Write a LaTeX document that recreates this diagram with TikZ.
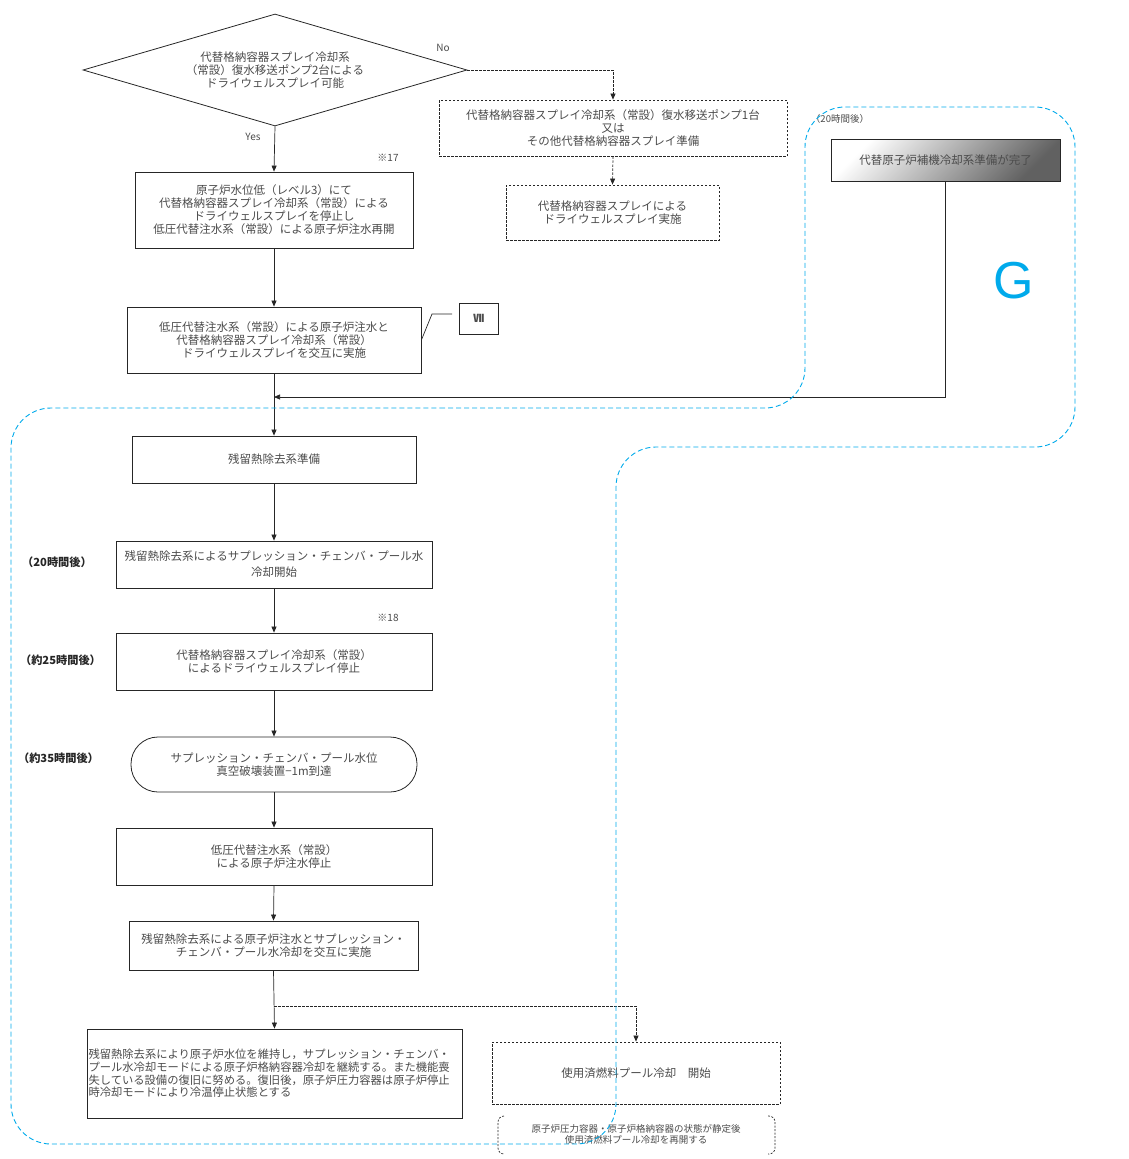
\documentclass[tikz,border=0pt]{standalone}
\usepackage{fontspec}
\setmainfont{Noto Sans CJK JP}
\newfontfamily\latinsans{Liberation Sans}
\usetikzlibrary{shapes.geometric,arrows.meta}
\definecolor{gblue}{RGB}{0,170,235}
\definecolor{txt}{RGB}{75,75,75}
\begin{document}
\begin{tikzpicture}[x=1pt,y=-1pt,
  every node/.style={text=txt, font=\fontsize{11.5}{13}\selectfont, inner sep=1pt},
  box/.style={draw=black!85, line width=0.8pt, rectangle, align=center, inner sep=2pt},
  dbox/.style={box, dash pattern=on 2.5pt off 1.5pt},
  arr/.style={draw=black!85, line width=0.7pt, -{Triangle[length=6pt,width=5pt]}},
  darr/.style={arr, dash pattern=on 2.5pt off 1.5pt},
  lbl/.style={font=\fontsize{11.2}{13}\selectfont\bfseries, text=black!85},
  small/.style={font=\fontsize{10}{11}\selectfont},
  region/.style={draw=gblue, line width=0.9pt, dash pattern=on 5pt off 3pt},
]
\useasboundingbox (0,0) rectangle (1129,1159);

% decision
\node[draw=black!85, line width=0.8pt, diamond, aspect=3.43, minimum width=384pt, minimum height=112pt, inner sep=0pt, align=center] (dia) at (275,70)
  {代替格納容器スプレイ冷却系\\（常設）復水移送ポンプ2台による\\ドライウェルスプレイ可能};
\node[small] (no) at (443,48) {No};
\node[small] (yes) at (253,137) {Yes};

% No branch
\node[dbox, minimum width=348pt, minimum height=56pt] (b1) at (613,128)
  {代替格納容器スプレイ冷却系（常設）復水移送ポンプ1台\\又は\\その他代替格納容器スプレイ準備};
\node[dbox, minimum width=213pt, minimum height=55pt] (b2) at (612.5,212.5)
  {代替格納容器スプレイによる\\ドライウェルスプレイ実施};

% main column
\node[small] (m17) at (388,158) {※17};
\node[box, minimum width=278pt, minimum height=76pt] (nA) at (274,210)
  {原子炉水位低（レベル3）にて\\代替格納容器スプレイ冷却系（常設）による\\ドライウェルスプレイを停止し\\低圧代替注水系（常設）による原子炉注水再開};
\node[box, minimum width=294pt, minimum height=66pt] (nB) at (274,340)
  {低圧代替注水系（常設）による原子炉注水と\\代替格納容器スプレイ冷却系（常設）\\ドライウェルスプレイを交互に実施};
\node[box, minimum width=39pt, minimum height=31pt, font=\fontsize{11}{13}\selectfont\bfseries] (vii) at (478.5,318.5) {Ⅶ};
\node[box, minimum width=284pt, minimum height=47pt] (nC) at (274,459.5) {残留熱除去系準備};
\node[box, minimum width=316pt, minimum height=47pt, font=\fontsize{11.5}{16}\selectfont] (nD) at (274,564.5)
  {残留熱除去系によるサプレッション・チェンバ・プール水\\冷却開始};
\node[small] (m18) at (388,618) {※18};
\node[box, minimum width=316pt, minimum height=57pt] (nE) at (274,661.5)
  {代替格納容器スプレイ冷却系（常設）\\によるドライウェルスプレイ停止};
\node[box, rounded corners=27pt, minimum width=286pt, minimum height=55pt] (nF) at (274,764.5)
  {サプレッション・チェンバ・プール水位\\真空破壊装置−1m到達};
\node[box, minimum width=316pt, minimum height=57pt] (nG) at (274,856.5)
  {低圧代替注水系（常設）\\による原子炉注水停止};
\node[box, minimum width=289pt, minimum height=49pt] (nH) at (273.5,945.5)
  {残留熱除去系による原子炉注水とサプレッション・\\チェンバ・プール水冷却を交互に実施};
\node[box, minimum width=375pt, minimum height=89pt, text width=372pt, inner sep=1.5pt, align=left, font=\fontsize{11.3}{12.7}\selectfont] (nI) at (274.5,1073.5)
  {残留熱除去系により原子炉水位を維持し，サプレッション・チェンバ・\\プール水冷却モードによる原子炉格納容器冷却を継続する。また機能喪\\失している設備の復旧に努める。復旧後，原子炉圧力容器は原子炉停止\\時冷却モードにより冷温停止状態とする};
\node[dbox, minimum width=288pt, minimum height=62pt] (nJ) at (636,1073) {使用済燃料プール冷却　開始};
\node[font=\fontsize{9.5}{11}\selectfont, align=center] (note) at (636,1134)
  {原子炉圧力容器・原子炉格納容器の状態が静定後\\使用済燃料プール冷却を再開する};
\draw[black!85, line width=0.7pt, dash pattern=on 2pt off 1.5pt, rounded corners=6pt] (504,1116) -- (498,1116) -- (498,1154) -- (504,1154);
\draw[black!85, line width=0.7pt, dash pattern=on 2pt off 1.5pt, rounded corners=6pt] (768,1116) -- (775,1116) -- (775,1154) -- (768,1154);

% time labels
\node[lbl] (t20) at (57,562) {（20時間後）};
\node[lbl] (t25) at (60.5,660) {（約25時間後）};
\node[lbl] (t35) at (58.5,758) {（約35時間後）};
\node[font=\fontsize{9.5}{11}\selectfont] (t20g) at (840,119) {（20時間後）};

% G region
\node[draw=black!85, line width=0.8pt, minimum width=229pt, minimum height=42pt, top color=white, bottom color=black!62, shading angle=45] (gb) at (945.5,160) {代替原子炉補機冷却系準備が完了};
\node[text=gblue, font=\latinsans\fontsize{52}{52}\selectfont] (gl) at (1014,281) {G};

% connectors
\coordinate (m) at (274,397);
\coordinate (br) at (274,1006);
\coordinate (v1) at (432,314);
\coordinate (v2) at (452,314);
\draw[darr] (dia.east) -| (b1.north);
\draw[darr] (b1.south) -- (b2.north);
\draw[arr] (dia.south) -- (nA.north);
\draw[arr] (nA.south) -- (nB.north);
\draw[arr] (nB.south) -- (nC.north);
\draw[arr] (gb.south) |- (m);
\draw[arr] (nC.south) -- (nD.north);
\draw[arr] (nD.south) -- (nE.north);
\draw[arr] (nE.south) -- (nF.north);
\draw[arr] (nF.south) -- (nG.north);
\draw[arr] (nG.south) -- (nH.north);
\draw[arr] (nH.south) -- (nI.north);
\draw[darr] (br) -| (nJ.north);
\draw[black!85, line width=0.7pt] (nB.east) -- (v1) -- (v2);

% blue dashed region
\draw[region, rounded corners=40pt] (400,408) -- (805,408) -- (805,107) -- (1075,107) -- (1075,447) -- (616,447) -- (616,1144) -- (11,1144) -- (11,408) -- cycle;
\end{tikzpicture}
\end{document}
